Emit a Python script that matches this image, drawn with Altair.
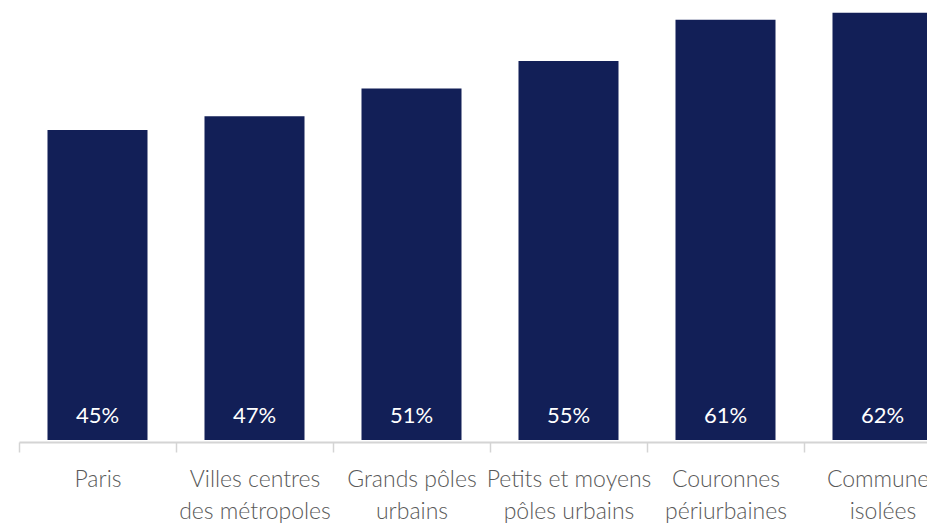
import altair as alt
import pandas as pd

categories = [
    "Paris",
    "Villes centres\ndes métropoles",
    "Grands pôles\nurbains",
    "Petits et moyens\npôles urbains",
    "Couronnes\npériurbaines",
    "Communes\nisolées",
]
values = [45, 47, 51, 55, 61, 62]
value_labels = ["45%", "47%", "51%", "55%", "61%", "62%"]

df = pd.DataFrame({"cat": categories, "val": values, "lab": value_labels})

x_scale = alt.Scale(range=[0, 942], paddingInner=0, paddingOuter=0)

x_enc = alt.X(
    "cat:N",
    sort=categories,
    title=None,
    scale=x_scale,
    axis=alt.Axis(
        labelAngle=0,
        labelExpr="split(datum.label, '\\n')",
        labelFont="Lato",
        labelFontWeight=300,
        labelFontSize=23,
        labelColor="#595959",
        labelLineHeight=32,
        labelPadding=34.7,
        labelBaseline="alphabetic",
        labelOverlap=False,
        labelLimit=0,
        offset=2,
        tickBand="extent",
        tickSize=10,
        tickColor="#d4d4d4",
        tickWidth=1.5,
        domainColor="#d4d4d4",
        domainWidth=2,
    ),
)

y_scale = alt.Scale(domain=[0, 62.7], nice=False, zero=True)

bars = alt.Chart(df).mark_bar(
    color="#121f57", width=alt.RelativeBandSize(0.637)
).encode(
    x=x_enc,
    y=alt.Y("val:Q", scale=y_scale, axis=None),
)

texts = alt.Chart(df).mark_text(
    color="white", font="Lato", fontSize=22, baseline="alphabetic", dy=-16.7
).encode(
    x=alt.X("cat:N", sort=categories),
    y=alt.datum(0, scale=y_scale),
    text="lab:N",
)

chart = (
    alt.layer(bars, texts)
    .properties(
        width=908,
        height=432,
        padding={"left": 11, "top": 0, "right": 0, "bottom": 85},
        autosize=alt.AutoSizeParams(type="none"),
    )
    .configure_view(stroke=None)
)

chart.save("out.html", embed_options={"renderer": "svg", "actions": False})
